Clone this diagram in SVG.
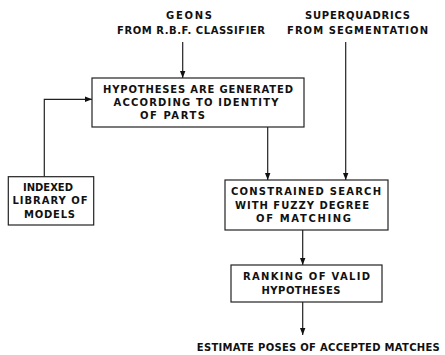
<svg xmlns="http://www.w3.org/2000/svg" width="445" height="355" viewBox="0 0 445 355">
<style>
text{font-family:"DejaVu Sans","Liberation Sans",sans-serif;font-weight:bold;font-size:10px;fill:#111;text-anchor:middle}
.box{fill:#fff;stroke:#222;stroke-width:1.2}
.conn{fill:none;stroke:#222;stroke-width:1.2}
</style>
<defs>
<marker id="ah" markerUnits="userSpaceOnUse" markerWidth="7" markerHeight="6" refX="7" refY="3" orient="auto">
<path d="M0,0.3 L7,3 L0,5.7 z" fill="#111"/>
</marker>
</defs>
<rect width="445" height="355" fill="#fff"/>
<g id="connectors">
<path class="conn" d="M182.7,42 V78" marker-end="url(#ah)"/>
<path class="conn" d="M345.7,42 V180" marker-end="url(#ah)"/>
<path class="conn" d="M44.3,176.7 V99.3 H92" marker-end="url(#ah)"/>
<path class="conn" d="M267.7,127 V180" marker-end="url(#ah)"/>
<path class="conn" d="M302.7,230 V265" marker-end="url(#ah)"/>
<path class="conn" d="M302.7,302 V335" marker-end="url(#ah)"/>
</g>
<g id="geons">
<text x="189" y="19" textLength="46" lengthAdjust="spacing">GEONS</text>
<text x="191" y="34" textLength="148" lengthAdjust="spacing">FROM R.B.F. CLASSIFIER</text>
</g>
<g id="superquadrics">
<text x="357.5" y="19" textLength="105" lengthAdjust="spacing">SUPERQUADRICS</text>
<text x="357.5" y="34" textLength="141" lengthAdjust="spacing">FROM SEGMENTATION</text>
</g>
<g id="hypotheses">
<rect class="box" x="92" y="78" width="212" height="49"/>
<text x="198" y="92.5" textLength="190" lengthAdjust="spacing">HYPOTHESES ARE GENERATED</text>
<text x="196" y="105.5" textLength="165" lengthAdjust="spacing">ACCORDING TO IDENTITY</text>
<text x="172.5" y="118.5" textLength="65" lengthAdjust="spacing">OF PARTS</text>
</g>
<g id="library">
<rect class="box" x="8.3" y="176.7" width="85.4" height="48.3"/>
<text x="48" y="190.5" textLength="50" lengthAdjust="spacing">INDEXED</text>
<text x="50" y="204" textLength="75" lengthAdjust="spacing">LIBRARY OF</text>
<text x="49.5" y="217.5" textLength="51" lengthAdjust="spacing">MODELS</text>
</g>
<g id="search">
<rect class="box" x="225" y="180" width="163" height="50"/>
<text x="306" y="194.5" textLength="150" lengthAdjust="spacing">CONSTRAINED SEARCH</text>
<text x="302" y="208.5" textLength="134" lengthAdjust="spacing">WITH FUZZY DEGREE</text>
<text x="303.5" y="222.3" textLength="95" lengthAdjust="spacing">OF MATCHING</text>
</g>
<g id="ranking">
<rect class="box" x="231" y="265" width="151" height="37"/>
<text x="306.5" y="280" textLength="127" lengthAdjust="spacing">RANKING OF VALID</text>
<text x="301" y="294" textLength="79" lengthAdjust="spacing">HYPOTHESES</text>
</g>
<g id="estimate">
<text x="318.3" y="350.5" textLength="243" lengthAdjust="spacing">ESTIMATE POSES OF ACCEPTED MATCHES</text>
</g>
</svg>
